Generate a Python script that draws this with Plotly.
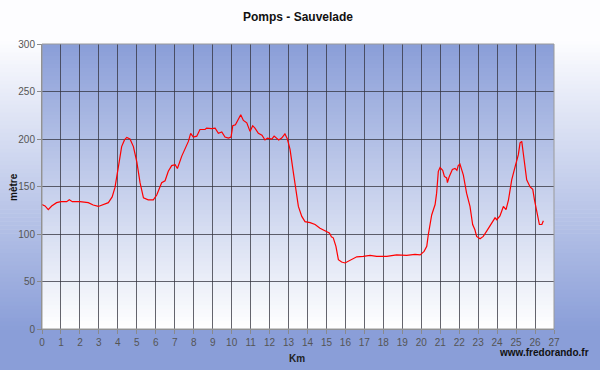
import plotly.graph_objects as go

# Elevation profile (km, metres)
km = [0.0, 0.16, 0.33, 0.51, 0.77, 1.0, 1.3, 1.44, 1.6, 2.0, 2.44, 2.7, 2.97, 3.23, 3.5,
      3.7, 3.85, 4.03, 4.2, 4.35, 4.47, 4.64, 4.82, 5.0, 5.17, 5.35, 5.6, 5.87, 6.05, 6.31,
      6.49, 6.66, 6.84, 7.02, 7.14, 7.37, 7.54, 7.72, 7.84, 7.98, 8.16, 8.33, 8.6, 8.68,
      8.95, 9.13, 9.3, 9.48, 9.65, 9.83, 9.97, 10.06, 10.2, 10.35, 10.48, 10.62, 10.8,
      10.97, 11.11, 11.23, 11.41, 11.6, 11.76, 11.89, 12.12, 12.24, 12.48, 12.64, 12.81,
      12.94, 13.08, 13.26, 13.4, 13.52, 13.7, 13.87, 14.14, 14.4, 14.66, 14.93, 15.15,
      15.22, 15.26, 15.36, 15.5, 15.63, 15.8, 15.98, 16.24, 16.6, 16.94, 17.3, 17.65,
      18.18, 18.7, 19.23, 19.67, 19.94, 20.15, 20.29, 20.37, 20.55, 20.73, 20.81, 20.9,
      20.99, 21.13, 21.22, 21.34, 21.38, 21.48, 21.64, 21.78, 21.88, 21.95, 22.04, 22.22,
      22.39, 22.57, 22.71, 22.83, 22.92, 23.1, 23.27, 23.45, 23.71, 23.89, 23.98, 24.15,
      24.33, 24.47, 24.6, 24.77, 24.95, 25.12, 25.21, 25.3, 25.38, 25.56, 25.74, 25.88,
      25.97, 26.09, 26.23, 26.36, 26.44]
alt = [131, 129.5, 125.6, 129.5, 133, 134, 134, 136, 134, 134, 133, 130.5, 129, 131, 133,
       139, 149, 171, 192, 199, 201.7, 200, 192, 176, 154, 138, 136, 136, 141, 154,
       156, 166, 172, 173, 169, 182, 190, 197.5, 206, 202, 203, 210, 210, 211.5,
       211, 211.5, 206, 207.5, 202, 201, 202, 214, 215, 220, 225.6, 219.6, 217,
       208, 214, 211.5, 206, 204, 199, 201, 200, 203, 199, 201, 205.5,
       200, 189, 164, 145, 129, 118.5, 113, 112, 110, 106, 103, 101,
       99, 97, 96, 87, 73, 70.5, 69.5, 72, 76, 76.5, 77.5, 76.5,
       76.5, 78, 77.5, 78.5, 78, 81.7, 87, 99, 120, 131, 143, 166,
       170, 167, 160.6, 159, 154, 160.6, 168, 169, 167, 172, 173.6, 162,
       143, 129, 110, 104.5, 97.5, 95, 97.5, 103, 111.6, 117, 115, 119,
       129, 125.6, 136, 157, 171, 183.5, 196, 197.5, 185, 157, 149.5, 147,
       136, 122, 110, 110, 114]

title = "Pomps - Sauvelade"
x_title = "Km"
y_title = "mètre"
credit = "www.fredorando.fr"

W, H = 600, 370
L, R, T, B = 42, 46, 44, 41
pw, ph = W - L - R, H - T - B


def px2paper_x(x):
    return (x - L) / pw


def py2paper_y(y):
    return (H - B - y) / ph


def mix(c1, c2, f):
    f = max(0.0, min(1.0, f))
    return "rgb(%d,%d,%d)" % tuple(round(a + (b - a) * f) for a, b in zip(c1, c2))


blue = (138, 158, 216)
white = (253, 253, 255)
shapes = []
# page background gradient (white top -> blue bottom)
n = 92
for i in range(n):
    y0 = i * H / n
    y1 = (i + 1) * H / n + 0.6
    f = ((y0 + y1) / 2 - 40) / (330 - 40)
    shapes.append(dict(type="rect", xref="paper", yref="paper", layer="below",
                       x0=px2paper_x(-2), x1=px2paper_x(W + 2),
                       y0=py2paper_y(y1), y1=py2paper_y(y0),
                       fillcolor=mix(white, blue, f), line=dict(width=0)))
# plot area gradient (blue top -> white bottom)
n2 = 72
for i in range(n2):
    y0 = i / n2
    y1 = (i + 1) / n2 + 0.004
    f = 1 - (i + 0.5) / n2
    shapes.append(dict(type="rect", xref="paper", yref="paper", layer="below",
                       x0=0, x1=1, y0=1 - min(1, y1), y1=1 - y0,
                       fillcolor=mix((255, 255, 255), blue, f), line=dict(width=0)))
# plot border (top/right)
shapes.append(dict(type="rect", xref="paper", yref="paper", x0=0, x1=1, y0=0, y1=1,
                   line=dict(color="#9a9a9a", width=1), layer="above"))

fig = go.Figure()
fig.add_trace(go.Scatter(x=km, y=alt, mode="lines",
                         line=dict(color="#ff0000", width=1.2), hoverinfo="skip"))

font = "Liberation Sans, Arial, sans-serif"
fig.update_layout(
    width=W, height=H,
    margin=dict(l=L, r=R, t=T, b=B, pad=0),
    paper_bgcolor="white",
    plot_bgcolor="rgba(0,0,0,0)",
    showlegend=False,
    font=dict(family=font, size=10, color="#555"),
    shapes=shapes,
    title=dict(text="<b>" + title + "</b>", x=0.5, xref="paper", xanchor="center",
               y=1 - 17 / H, yanchor="middle",
               font=dict(family=font, size=12, color="#111")),
    annotations=[
        dict(text="<b>" + y_title + "</b>", xref="paper", yref="paper",
             x=px2paper_x(13), y=py2paper_y(187), textangle=-90, showarrow=False,
             xanchor="center", yanchor="middle",
             font=dict(family=font, size=10, color="#111")),
        dict(text="<b>" + x_title + "</b>", xref="paper", yref="paper",
             x=px2paper_x(297), y=py2paper_y(358), showarrow=False,
             xanchor="center", yanchor="middle",
             font=dict(family=font, size=10, color="#222")),
        dict(text="<b>" + credit + "</b>", xref="paper", yref="paper",
             x=px2paper_x(591), y=py2paper_y(352), xanchor="right", yanchor="middle",
             showarrow=False,
             font=dict(family=font, size=10, color="#111")),
    ],
)
fig.update_xaxes(range=[0, 27], dtick=1, tick0=0, showgrid=True,
                 gridcolor="rgba(50,50,60,0.75)", gridwidth=1,
                 showline=True, linecolor="#8a8a8a", linewidth=1,
                 ticks="outside", ticklen=4, tickcolor="#8a8a8a",
                 tickfont=dict(family=font, size=10, color="#555"),
                 zeroline=False, fixedrange=True)
fig.update_yaxes(range=[0, 300], dtick=50, tick0=0, showgrid=True,
                 gridcolor="rgba(50,50,60,0.75)", gridwidth=1,
                 showline=True, linecolor="#8a8a8a", linewidth=1,
                 ticks="outside", ticklen=4, tickcolor="#8a8a8a",
                 tickfont=dict(family=font, size=10, color="#555"),
                 zeroline=False, fixedrange=True)

fig.write_html("out.html", config=dict(displayModeBar=False))
